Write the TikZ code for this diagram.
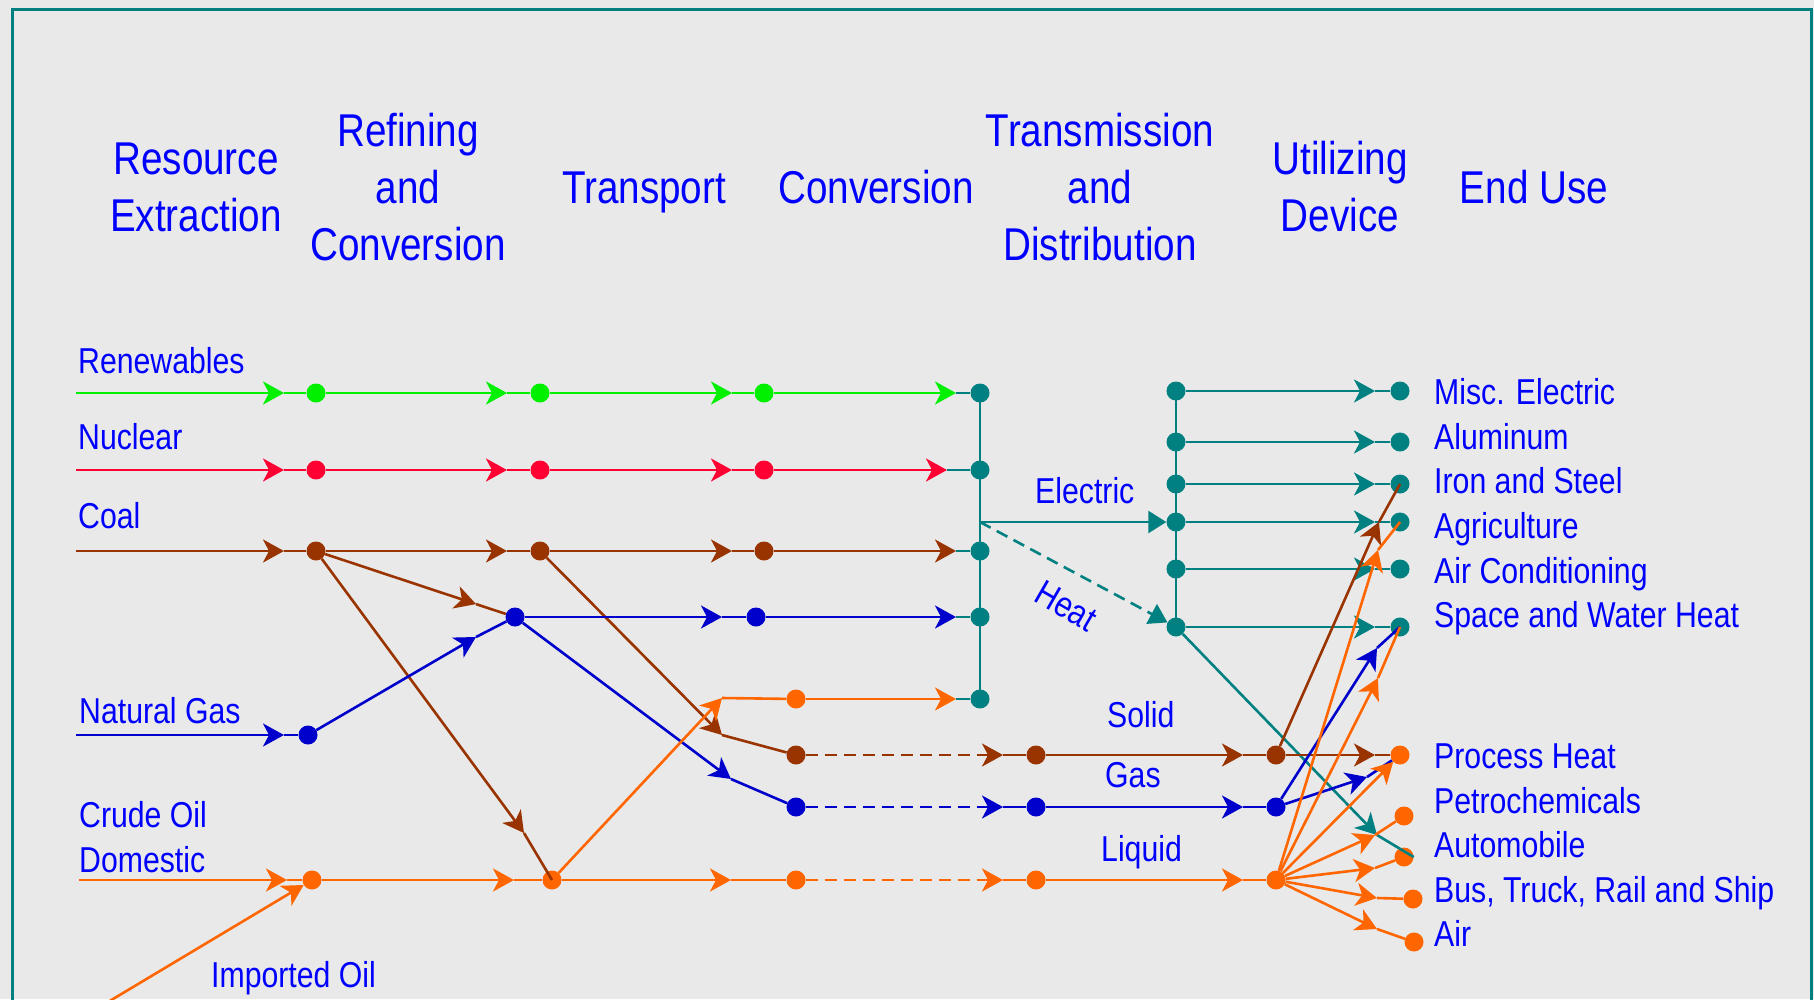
\documentclass[tikz,border=0pt]{standalone}
\usepackage{fontspec}
\setmainfont{Liberation Sans}[FakeStretch=0.84]
\usetikzlibrary{arrows.meta,calc}

\definecolor{lblue}{RGB}{0,0,255}
\definecolor{fgreen}{RGB}{0,240,0}
\definecolor{fred}{RGB}{255,0,51}
\definecolor{fbrown}{RGB}{153,51,0}
\definecolor{fblue}{RGB}{0,0,204}
\definecolor{forange}{RGB}{255,102,0}
\definecolor{fteal}{RGB}{0,128,128}
\definecolor{paper}{RGB}{233,233,233}

\newcommand{\stagefont}{\fontsize{46}{57}\selectfont}
\newcommand{\labelfont}{\fontsize{36}{45}\selectfont}

\tikzset{
    flowtip/.tip={Stealth[length=21pt,width=23pt,inset=6pt]},
    feedtip/.tip={Triangle[length=18pt,width=22pt]},
    pipe/.style={line width=2.6pt},
    haul/.style={dash pattern=on 12pt off 7pt},
    bead/.style={circle,fill=#1,inner sep=0pt,minimum size=19pt},
    stage/.style={font=\stagefont,text=lblue,anchor=base,inner sep=0pt},
    lab/.style={font=\labelfont,text=lblue,anchor=base west,inner sep=0pt}
}

% arrow from #2 up to the tip #3 in colour #1, then on to #4 in colour #5
\newcommand{\hop}[5]{%
    \draw[pipe,#1,-{flowtip}] (#2) -- (#3);
    \draw[pipe,#5] (#3) -- (#4);}

\begin{document}
\begin{tikzpicture}[x=1pt,y=-1pt]
    \useasboundingbox (0,0) rectangle (1814,999);
    \clip (0,0) rectangle (1814,999);
    \fill[paper] (0,0) rectangle (1814,999);
    \draw[fteal,line width=3pt] (12.5,1010) -- (12.5,9.5) -- (1811,9.5) -- (1811,1010);

    % stages
    \node[stage] (res) at (196,174) {\begin{tabular}[t]{@{}c@{}}Resource\\Extraction\end{tabular}};
    \node[stage] (ref) at (408,146.5) {\begin{tabular}[t]{@{}c@{}}Refining\\and\\Conversion\end{tabular}};
    \node[stage] (trn) at (644,203) {Transport};
    \node[stage] (cnv) at (876,203) {Conversion};
    \node[stage] (tnd) at (1100,146.5) {\begin{tabular}[t]{@{}c@{}}Transmission\\and\\Distribution\end{tabular}};
    \node[stage] (dev) at (1340,174) {\begin{tabular}[t]{@{}c@{}}Utilizing\\Device\end{tabular}};
    \node[stage] (use) at (1534,203) {End Use};

    % resources
    \coordinate (ren0) at (76,393);
    \coordinate (nuc0) at (76,470);
    \coordinate (coal0) at (76,551);
    \coordinate (gas0) at (76,735);
    \coordinate (oil0) at (79,880);
    \coordinate (imp0) at (108,1002);

    \node[bead=fgreen] (ren1) at (316,393) {};
    \node[bead=fgreen] (ren2) at (540,393) {};
    \node[bead=fgreen] (ren3) at (764,393) {};
    \node[bead=fred] (nuc1) at (316,470) {};
    \node[bead=fred] (nuc2) at (540,470) {};
    \node[bead=fred] (nuc3) at (764,470) {};
    \node[bead=fbrown] (coal1) at (316,551) {};
    \node[bead=fbrown] (coal2) at (540,551) {};
    \node[bead=fbrown] (coal3) at (764,551) {};
    \node[bead=fblue] (gas1) at (308,735) {};
    \node[bead=fblue] (gas2) at (515,617) {};
    \node[bead=fblue] (gas3) at (756,617) {};
    \node[bead=forange] (oil1) at (312,880) {};
    \node[bead=forange] (oil2) at (552,880) {};
    \node[bead=forange] (oil3) at (796,699) {};
    \node[bead=fbrown] (sol1) at (796,755) {};
    \node[bead=fblue] (gasd1) at (796,807) {};
    \node[bead=forange] (liq1) at (796,880) {};
    \node[bead=fbrown] (sol2) at (1036,755) {};
    \node[bead=fblue] (gasd2) at (1036,807) {};
    \node[bead=forange] (liq2) at (1036,880) {};
    \node[bead=fbrown] (sol3) at (1276,755) {};
    \node[bead=fblue] (gasd3) at (1276,807) {};
    \node[bead=forange] (liq3) at (1276,880) {};

    % power plants and electric distribution
    \foreach \y [count=\i] in {393,470,551,617,699}
        \node[bead=fteal] (p\i) at (980,\y) {};
    \coordinate (pj) at (980,522);
    \foreach \y [count=\i] in {391,442,484,522,569,627}
        \node[bead=fteal] (d\i) at (1176,\y) {};

    % end uses
    \foreach \nm/\y/\b/\txt in {misc/391/404/Misc. Electric, alum/442/449/Aluminum,
            iron/484/493/Iron and Steel, agri/522/538/Agriculture,
            cool/569/583/Air Conditioning, space/627/627/Space and Water Heat}{
        \node[bead=fteal] (\nm) at (1400,\y) {};
        \node[lab] (t\nm) at (1434,\b) {\txt};
    }
    \foreach \nm/\x/\y/\b/\txt in {proc/1400/755/768/Process Heat, petro/1404/816/813/Petrochemicals,
            autom/1404/857/857/Automobile, bus/1413/899/902/{Bus, Truck, Rail and Ship},
            air/1414/942/946/Air}{
        \node[bead=forange] (\nm) at (\x,\y) {};
        \node[lab] (t\nm) at (1434,\b) {\txt};
    }

    % renewables, nuclear and coal
    \foreach \f/\c/\p/\s in {ren/fgreen/1/24,nuc/fred/2/33,coal/fbrown/3/24}{
        \hop{\c}{\f0}{$(\f1)!32pt!(\f0)$}{\f1}{\c}
        \hop{\c}{\f1}{$(\f2)!33pt!(\f1)$}{\f2}{\c}
        \hop{\c}{\f2}{$(\f3)!32pt!(\f2)$}{\f3}{\c}
        \hop{\c}{\f3}{$(p\p)!\s pt!(\f3)$}{p\p}{fteal}
    }
    \hop{fbrown}{coal1}{$(gas2)!41pt!(coal1)$}{gas2}{fbrown}
    \hop{fbrown}{coal1}{524,833}{oil2.center}{fbrown}
    \hop{fbrown}{coal2}{722,735}{sol1}{fbrown}

    % natural gas
    \hop{fblue}{gas0}{$(gas1)!24pt!(gas0)$}{gas1}{fblue}
    \hop{fblue}{gas1}{476,637}{gas2}{fblue}
    \hop{fblue}{gas2}{$(gas3)!34pt!(gas2)$}{gas3}{fblue}
    \hop{fblue}{gas3}{$(p4)!24pt!(gas3)$}{p4}{fteal}
    \hop{fblue}{gas2}{731,779}{gasd1}{fblue}

    % oil
    \hop{forange}{oil0}{$(oil1)!25pt!(oil0)$}{oil1}{forange}
    \draw[pipe,forange,-{flowtip}] (imp0) -- (oil1);
    \hop{forange}{oil1}{$(oil2)!38pt!(oil1)$}{oil2}{forange}
    \hop{forange}{oil2}{722,698}{oil3}{forange}
    \hop{forange}{oil3}{$(p5)!24pt!(oil3)$}{p5}{fteal}
    \hop{forange}{oil2}{$(liq1)!65pt!(oil2)$}{liq1}{forange}

    % solid, gas and liquid fuels
    \foreach \f/\c in {sol/fbrown,gasd/fblue,liq/forange}{
        \hop{\c,haul}{\f1}{$(\f2)!33pt!(\f1)$}{\f2}{\c}
        \hop{\c}{\f2}{$(\f3)!33pt!(\f2)$}{\f3}{\c}
    }

    % electricity and heat
    \draw[pipe,fteal] (p1.center) -- (p5.center);
    \draw[pipe,fteal] (d1.center) -- (d6.center);
    \draw[pipe,fteal,-{feedtip}] (pj) -- (d4);
    \draw[pipe,fteal,haul,-{feedtip}] (pj) -- (d6);
    \foreach \nm [count=\i] in {misc,alum,iron,agri,cool,space}{
        \hop{fteal}{d\i}{$(\nm)!25pt!(d\i)$}{\nm}{fteal}
    }
    \hop{fteal}{d6}{1377,835}{autom.east}{fteal}

    % utilizing devices
    \hop{fbrown}{sol3}{$(proc)!25pt!(sol3)$}{proc}{fbrown}
    \hop{fbrown}{sol3}{1379,522}{iron.center}{fbrown}
    \hop{fblue}{gasd3}{1367,777}{proc}{fblue}
    \hop{fblue}{gasd3}{1377,648}{space.center}{fblue}
    \hop{forange}{liq3}{1378,550}{agri.center}{forange}
    \hop{forange}{liq3}{1378,678}{space.center}{forange}
    \draw[pipe,forange,-{flowtip}] (liq3) -- (proc);
    \hop{forange}{liq3}{1375,835}{petro}{forange}
    \hop{forange}{liq3}{1375,868}{autom}{forange}
    \hop{forange}{liq3}{1377,898}{bus}{forange}
    \hop{forange}{liq3}{1377,929}{air}{forange}

    % labels
    \node[lab] (lren) at (78,373) {Renewables};
    \node[lab] (lnuc) at (78,449) {Nuclear};
    \node[lab] (lcoal) at (78,528) {Coal};
    \node[lab] (lgas) at (79,723) {Natural Gas};
    \node[lab] (loil) at (79,827) {\begin{tabular}[t]{@{}l@{}}Crude Oil\\Domestic\end{tabular}};
    \node[lab] (limp) at (211,987) {Imported Oil};
    \node[lab] (lele) at (1035,503) {Electric};
    \node[lab,anchor=center,rotate=-30] (lheat) at (1066,606) {Heat};
    \node[lab] (lsol) at (1107,727) {Solid};
    \node[lab] (lgasd) at (1105,787) {Gas};
    \node[lab] (lliq) at (1101,861) {Liquid};
\end{tikzpicture}
\end{document}
